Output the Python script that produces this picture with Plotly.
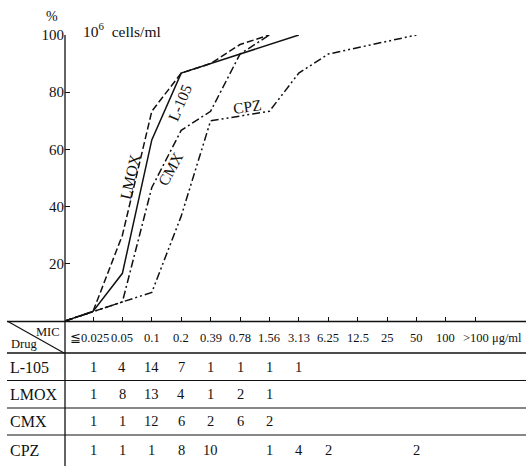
import plotly.graph_objects as go

# ---------------- data ----------------
mic_labels = ["≦0.025", "0.05", "0.1", "0.2", "0.39", "0.78", "1.56",
              "3.13", "6.25", "12.5", "25", "50", "100", ">100 μg/ml"]
drug_names = ["L-105", "LMOX", "CMX", "CPZ"]
counts_l105 = [1, 4, 14, 7, 1, 1, 1, 1]
counts_lmox = [1, 8, 13, 4, 1, 2, 1]
counts_cmx = [1, 1, 12, 6, 2, 6, 2]
counts_cpz = [1, 1, 1, 8, 10, 0, 1, 4, 2, 0, 0, 2]
y_ticks = [20, 40, 60, 80, 100]

# ---------------- layout constants ----------------
W, H = 526, 466
FONT = "Liberation Serif"
INK = "#111111"
X_LEFT_PX, Y_ZERO_PX, Y_TOP_PX = 65, 321, 35
X0_PX, STEP_PX = 93, 29.4
X_RANGE = [(X_LEFT_PX - X0_PX) / STEP_PX, (W - X0_PX) / STEP_PX]


def px(x):
    return x / W


def py(y):
    return 1 - y / H


def cumulative(counts):
    total = sum(counts)
    xs, ys = [X_RANGE[0]], [0]
    run = 0
    for i, c in enumerate(counts):
        run += c
        if c > 0:
            xs.append(i)
            ys.append(100 * run / total)
    return xs, ys


fig = go.Figure()
styles = {
    "L-105": "solid",
    "LMOX": "7px,3px",
    "CMX": "8px,3px,2px,3px",
    "CPZ": "8px,3px,2px,3px,2px,3px",
}
all_counts = [counts_l105, counts_lmox, counts_cmx, counts_cpz]
for name, cts in zip(drug_names, all_counts):
    xs, ys = cumulative(cts)
    fig.add_trace(go.Scatter(x=xs, y=ys, mode="lines", name=name,
                             line=dict(color=INK, width=1.5, dash=styles[name]),
                             showlegend=False, hoverinfo="skip"))

shapes = []
line = dict(color=INK, width=1.3)
shapes.append(dict(type="line", xref="paper", yref="paper",
                   x0=px(X_LEFT_PX), x1=px(X_LEFT_PX), y0=0, y1=py(Y_TOP_PX), line=line))
for yy, wd in [(Y_ZERO_PX + 0.5, 1.4), (353, 1.6), (380.5, 1.1), (408, 1.1), (435, 1.1)]:
    shapes.append(dict(type="line", xref="paper", yref="paper",
                       x0=px(7), x1=1, y0=py(yy), y1=py(yy),
                       line=dict(color=INK, width=wd)))
shapes.append(dict(type="line", xref="paper", yref="paper",
                   x0=px(8), y0=py(Y_ZERO_PX + 0.5), x1=px(64), y1=py(353),
                   line=dict(color=INK, width=1.2)))

ann = []
for i, lab in enumerate(mic_labels):
    if i == len(mic_labels) - 1:
        ann.append(dict(x=i, xref="x", y=py(338), yref="paper", text=lab,
                        xanchor="left", xshift=-14, yanchor="middle", showarrow=False,
                        font=dict(family=FONT, size=12.5, color=INK)))
    else:
        ann.append(dict(x=i, xref="x", y=py(338), yref="paper", text=lab,
                        xanchor="center", yanchor="middle", showarrow=False,
                        xshift=-4 if i == 0 else 0,
                        font=dict(family=FONT, size=12.5, color=INK)))
ann.append(dict(x=px(62), y=py(332), xref="paper", yref="paper", text="MIC",
                xanchor="right", yanchor="middle",
                showarrow=False, font=dict(family=FONT, size=12.5, color=INK)))
ann.append(dict(x=px(9), y=py(344), xref="paper", yref="paper", text="Drug",
                xanchor="left", yanchor="middle",
                showarrow=False, font=dict(family=FONT, size=12.5, color=INK)))

row_y = [367, 394, 421, 450]
for name, cts, ry in zip(drug_names, all_counts, row_y):
    ann.append(dict(x=px(8), y=py(ry), xref="paper", yref="paper",
                    text=name, xanchor="left", yanchor="middle",
                    showarrow=False, font=dict(family=FONT, size=16, color=INK)))
    for i, c in enumerate(cts):
        if c > 0:
            ann.append(dict(x=i, xref="x", y=py(ry), yref="paper", text=str(c),
                            xanchor="center", yanchor="middle", showarrow=False,
                            font=dict(family=FONT, size=14.5, color=INK)))

ann.append(dict(x=px(52), y=py(17), xref="paper", yref="paper", text="%",
                xanchor="center", yanchor="middle",
                showarrow=False, font=dict(family=FONT, size=14, color=INK)))
ann.append(dict(x=px(81), y=py(30), xref="paper", yref="paper",
                text="10<sup>6</sup>  cells/ml", xanchor="left", yanchor="middle",
                showarrow=False, font=dict(family=FONT, size=15.5, color=INK)))

for text, x, y, ang in [("LMOX", 1.26, 50.5, -77), ("L-105", 2.96, 76.3, -67),
                        ("CMX", 2.62, 53, -61), ("CPZ", 5.24, 75, -8)]:
    ann.append(dict(x=x, y=y, xref="x", yref="y", text=text, textangle=ang,
                    showarrow=False, font=dict(family=FONT, size=15.5, color=INK)))

fig.update_layout(
    width=W, height=H, autosize=False,
    margin=dict(l=0, r=0, t=0, b=0, pad=0),
    paper_bgcolor="white", plot_bgcolor="white",
    shapes=shapes, annotations=ann,
    xaxis=dict(domain=[px(X_LEFT_PX), 1], range=X_RANGE, showgrid=False, zeroline=False,
               showline=False, ticks="inside", ticklen=4, tickcolor=INK, tickwidth=1,
               tickvals=list(range(len(mic_labels))), showticklabels=False,
               fixedrange=True, automargin=False),
    yaxis=dict(domain=[py(Y_ZERO_PX), py(Y_TOP_PX)], range=[0, 100], showgrid=False,
               zeroline=False, showline=False, ticks="inside", ticklen=5, tickcolor=INK,
               tickwidth=1.2, tickvals=y_ticks, ticktext=[str(v) for v in y_ticks],
               tickfont=dict(family=FONT, size=15, color=INK), fixedrange=True,
               automargin=False),
)

fig.write_html("out.html", config={"displayModeBar": False},
               post_script="document.body.style.margin='0';document.body.style.padding='0';")
